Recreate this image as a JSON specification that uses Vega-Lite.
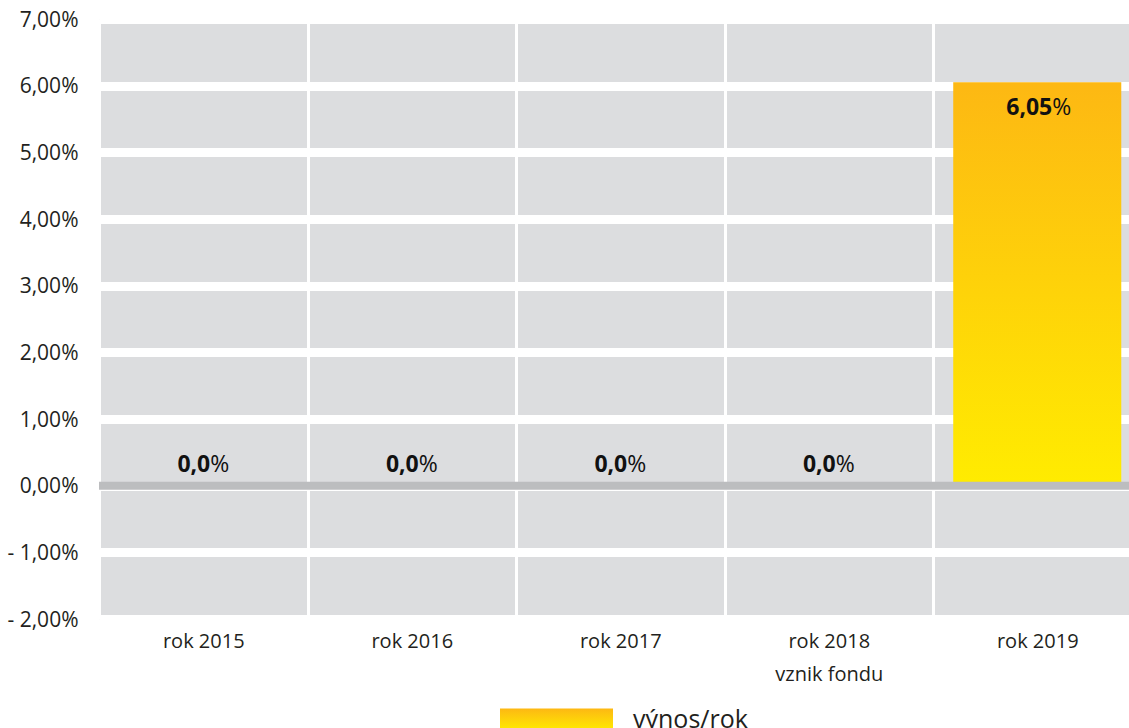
{
  "$schema": "https://vega.github.io/schema/vega-lite/v6.json",
  "width": 1030,
  "height": 600,
  "autosize": {"type": "none"},
  "padding": {"left": 99, "top": 19, "right": 0, "bottom": 109},
  "background": "white",
  "view": {"fill": "#dcdddf", "stroke": "transparent"},
  "config": {
    "view": {"fill": "#dcdddf", "stroke": "transparent"},
    "font": "Open Sans",
    "locale": {"number": {"decimal": ",", "thousands": " ", "grouping": [3], "currency": ["", " Kč"]}}
  },
  "data": {
    "values": [
      {"rok": "rok 2015", "vynos": 0},
      {"rok": "rok 2016", "vynos": 0},
      {"rok": "rok 2017", "vynos": 0},
      {"rok": "rok 2018", "vynos": 0},
      {"rok": "rok 2019", "vynos": 6.05}
    ]
  },
  "layer": [
    {
      "mark": {
        "type": "bar",
        "width": {"band": 0.806},
        "fill": {"gradient": "linear", "x1": 0, "y1": 0, "x2": 0, "y2": 1,
          "stops": [{"offset": 0, "color": "#fdb813"}, {"offset": 1, "color": "#ffec00"}]}
      },
      "encoding": {
        "x": {
          "field": "rok", "type": "nominal", "sort": null,
          "scale": {"range": [0, 1042.5], "paddingInner": 0, "paddingOuter": 0},
          "axis": {
            "title": null, "domain": false, "ticks": false, "grid": true, "gridColor": "white", "gridWidth": 3,
            "tickBand": "extent", "labelAngle": 0, "labelFontSize": 20, "labelColor": "#231f20",
            "labelPadding": 12, "labelBaseline": "top", "labelLineHeight": 33,
            "labelExpr": "datum.value == 'rok 2018' ? ['rok 2018', 'vznik fondu'] : datum.value"
          }
        },
        "y": {
          "field": "vynos", "type": "quantitative",
          "scale": {"domain": [-2, 7], "nice": false, "zero": false},
          "axis": {
            "title": null, "domain": false, "ticks": false, "grid": true, "gridColor": "white", "gridWidth": 9,
            "values": [-2, -1, 0, 1, 2, 3, 4, 5, 6, 7],
            "labelFontSize": 21, "labelColor": "#231f20", "labelPadding": 21, "labelOffset": 1,
            "labelExpr": "datum.value < 0 ? '- ' + replace(format(-datum.value, '.2f'), '.', ',') + '%' : replace(format(datum.value, '.2f'), '.', ',') + '%'"
          }
        }
      }
    },
    {
      "data": {"values": [{}]},
      "mark": {"type": "rule", "color": "#bcbdbf", "strokeWidth": 8},
      "encoding": {"y": {"datum": 0}}
    },
    {
      "transform": [{"filter": "datum.vynos == 0"}],
      "mark": {"type": "text", "fontWeight": "bold", "fontSize": 23, "align": "right", "baseline": "middle", "dx": 7, "dy": -21, "color": "#111"},
      "encoding": {
        "x": {"field": "rok", "type": "nominal", "sort": null},
        "y": {"field": "vynos", "type": "quantitative"},
        "text": {"field": "vynos", "type": "quantitative", "format": ".1f"}
      }
    },
    {
      "transform": [{"filter": "datum.vynos == 0"}],
      "mark": {"type": "text", "fontSize": 23, "align": "left", "baseline": "middle", "dx": 7, "dy": -21, "color": "#111", "text": "%"},
      "encoding": {
        "x": {"field": "rok", "type": "nominal", "sort": null},
        "y": {"field": "vynos", "type": "quantitative"}
      }
    },
    {
      "transform": [{"filter": "datum.vynos != 0"}],
      "mark": {"type": "text", "fontWeight": "bold", "fontSize": 23, "align": "right", "baseline": "middle", "dx": 15, "dy": 26, "color": "#111"},
      "encoding": {
        "x": {"field": "rok", "type": "nominal", "sort": null},
        "y": {"field": "vynos", "type": "quantitative"},
        "text": {"field": "vynos", "type": "quantitative", "format": ".2f"}
      }
    },
    {
      "transform": [{"filter": "datum.vynos != 0"}],
      "mark": {"type": "text", "fontSize": 23, "align": "left", "baseline": "middle", "dx": 15, "dy": 26, "color": "#111", "text": "%"},
      "encoding": {
        "x": {"field": "rok", "type": "nominal", "sort": null},
        "y": {"field": "vynos", "type": "quantitative"}
      }
    },
    {
      "data": {"values": [{}]},
      "mark": {
        "type": "point", "filled": true, "size": 0, "opacity": 1, "strokeWidth": 0,
        "fill": {"gradient": "linear", "x1": 0, "y1": 0, "x2": 0, "y2": 1,
          "stops": [{"offset": 0, "color": "#fdb813"}, {"offset": 1, "color": "#ffec00"}]}
      },
      "encoding": {
        "shape": {
          "datum": "výnos/rok",
          "scale": {"range": ["M-1,-0.195H1V0.195H-1Z"]},
          "legend": {
            "title": null, "orient": "none", "legendX": 401, "legendY": 644, "padding": 0,
            "symbolSize": 12769, "symbolStrokeWidth": 0, "symbolOpacity": 1,
            "labelFontSize": 25, "labelOffset": 20, "labelColor": "#231f20"
          }
        }
      }
    }
  ]
}
